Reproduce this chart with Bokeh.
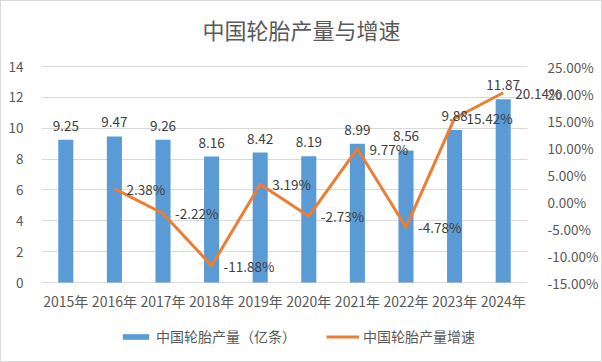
from bokeh.plotting import figure
from bokeh.models import (Range1d, LinearAxis, ColumnDataSource, BoxAnnotation, Label,
                          Legend, LegendItem, FixedTicker, PrintfTickFormatter)
from bokeh.core.properties import value
from bokeh.embed import file_html
from bokeh.resources import INLINE

years = ["2015年", "2016年", "2017年", "2018年", "2019年", "2020年", "2021年", "2022年", "2023年", "2024年"]
output = [9.25, 9.47, 9.26, 8.16, 8.42, 8.19, 8.99, 8.56, 9.88, 11.87]
growth_years = years[1:]
growth = [2.38, -2.22, -11.88, 3.19, -2.73, 9.77, -4.78, 15.42, 20.14]
left_ticks = [0, 2, 4, 6, 8, 10, 12, 14]
right_ticks = [-15, -10, -5, 0, 5, 10, 15, 20, 25]

FONT = "Noto Sans CJK SC"
GREY = "#595959"
DARK = "#404040"

n = len(years)
xs = [i + 0.5 for i in range(n)]
gxs = [years.index(y) + 0.5 for y in growth_years]

# plot area: 486 x 216 px; the frame is extended right, up and down so no text is clipped
PLOT_W, PLOT_H = 486, 216
EXTRA_TOP, EXTRA_BOTTOM, EXTRA_RIGHT = 65, 78, 67
left_span = left_ticks[-1] - left_ticks[0]
right_span = right_ticks[-1] - right_ticks[0]

p = figure(frame_width=PLOT_W + EXTRA_RIGHT, frame_height=PLOT_H + EXTRA_TOP + EXTRA_BOTTOM,
           x_range=Range1d(0, n * (PLOT_W + EXTRA_RIGHT) / PLOT_W),
           y_range=Range1d(left_ticks[0] - left_span * EXTRA_BOTTOM / PLOT_H,
                           left_ticks[-1] + left_span * EXTRA_TOP / PLOT_H),
           output_backend="svg", toolbar_location=None,
           min_border_left=40, min_border_right=7, min_border_top=0, min_border_bottom=1)
p.styles = {"border": "1px solid #d9d9d9"}
p.extra_y_ranges = {"pct": Range1d(right_ticks[0] - right_span * EXTRA_BOTTOM / PLOT_H,
                                   right_ticks[-1] + right_span * EXTRA_TOP / PLOT_H)}
p.outline_line_color = None
p.background_fill_color = "white"
p.border_fill_color = "white"

p.xgrid.grid_line_color = None
p.ygrid.grid_line_color = "#d9d9d9"
p.ygrid.ticker = FixedTicker(ticks=left_ticks)
# hide grid lines beyond the category area
p.add_layout(BoxAnnotation(left=n, fill_color="white", fill_alpha=1, line_color=None, level="underlay"))

bar_src = ColumnDataSource(dict(x=xs, y=output, lab=[f"{v:.2f}" for v in output]))
bars = p.vbar(x="x", top="y", width=0.31, source=bar_src, fill_color="#5B9BD5", line_color=None)

line_src = ColumnDataSource(dict(x=gxs, y=growth, lab=[f"{v:.2f}%" for v in growth]))
ln = p.line(x="x", y="y", source=line_src, line_color="#ED7D31", line_width=3,
            y_range_name="pct", line_join="round")

p.text(x="x", y="y", text="lab", source=bar_src, text_align="center", text_baseline="bottom",
       y_offset=-9, text_font=value(FONT), text_font_size="13.5px", text_color=DARK)
p.text(x="x", y="y", text="lab", source=line_src, text_align="left", text_baseline="middle",
       x_offset=12, y_range_name="pct", text_font=value(FONT), text_font_size="13.5px",
       text_color=DARK)

frame_h = PLOT_H + EXTRA_TOP + EXTRA_BOTTOM
title = Label(x=260, y=frame_h - 27, x_units="screen", y_units="screen",
              text="中国轮胎产量与增速", text_align="center", text_baseline="middle",
              text_font=FONT, text_font_size="22px", text_color=GREY)
p.add_layout(title)

ax = p.yaxis[0]
ax.ticker = FixedTicker(ticks=left_ticks)
ax.axis_line_color = None
ax.major_tick_line_color = None
ax.minor_tick_line_color = None
ax.major_label_standoff = 12
ax.major_label_text_font = FONT
ax.major_label_text_font_size = "13.5px"
ax.major_label_text_color = GREY

ra = LinearAxis(y_range_name="pct", ticker=FixedTicker(ticks=right_ticks),
                formatter=PrintfTickFormatter(format="%.2f%%"))
ra.axis_line_color = None
ra.major_tick_line_color = None
ra.minor_tick_line_color = None
ra.major_label_standoff = -53
ra.major_label_text_font = FONT
ra.major_label_text_font_size = "13.5px"
ra.major_label_text_color = GREY
p.add_layout(ra, "right")

xa = p.xaxis[0]
xa.ticker = FixedTicker(ticks=xs)
xa.major_label_overrides = {x: y for x, y in zip(xs, years)}
xa.axis_line_color = None
xa.major_tick_line_color = None
xa.minor_tick_line_color = None
xa.major_label_standoff = 2 - EXTRA_BOTTOM
xa.major_label_text_font = FONT
xa.major_label_text_font_size = "14px"
xa.major_label_text_color = GREY

legend = Legend(items=[LegendItem(label="中国轮胎产量（亿条）", renderers=[bars]),
                       LegendItem(label="中国轮胎产量增速", renderers=[ln])],
                orientation="horizontal", location=(78, 14), border_line_color=None,
                background_fill_alpha=0, label_text_font=FONT, label_text_font_size="14px",
                label_text_color=GREY, glyph_width=33, glyph_height=7, label_height=20,
                spacing=30, margin=0, padding=0, label_standoff=4)
p.add_layout(legend)

open("out.html", "w").write(file_html(p, INLINE))
